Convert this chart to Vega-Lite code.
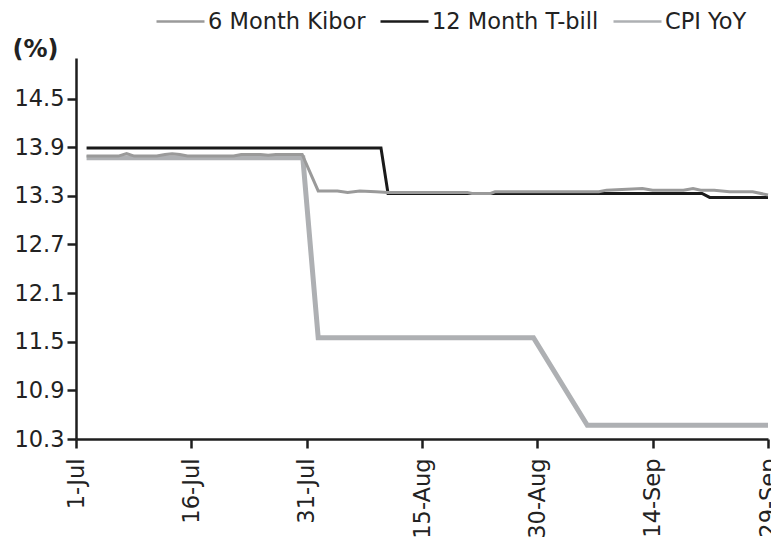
{
  "$schema": "https://vega.github.io/schema/vega-lite/v6.json",
  "width": 692,
  "height": 381,
  "autosize": "none",
  "padding": {"left": 76, "top": 58, "right": 3, "bottom": 101},
  "background": "white",
  "config": {
    "view": {"stroke": null},
    "font": "DejaVu Sans",
    "axis": {"grid": false, "domainColor": "#1e1e1e", "domainWidth": 2.5, "tickColor": "#1e1e1e", "tickWidth": 2.5, "tickSize": 9, "labelFont": "DejaVu Sans", "labelFontSize": 22.5, "labelColor": "#222222", "labelFlush": false, "labelOverlap": false, "labelLimit": 300}
  },
  "data": {
    "values": [
      {"date": "2011-07-02T09:00:00", "series": "CPI YoY", "value": 13.77},
      {"date": "2011-07-30T12:00:00", "series": "CPI YoY", "value": 13.77},
      {"date": "2011-08-01T12:00:00", "series": "CPI YoY", "value": 11.55},
      {"date": "2011-08-29T12:00:00", "series": "CPI YoY", "value": 11.55},
      {"date": "2011-09-05T12:00:00", "series": "CPI YoY", "value": 10.47},
      {"date": "2011-09-29T00:00:00", "series": "CPI YoY", "value": 10.47},

      {"date": "2011-07-02T09:00:00", "series": "12 Month T-bill", "value": 13.89},
      {"date": "2011-08-09T16:00:00", "series": "12 Month T-bill", "value": 13.89},
      {"date": "2011-08-10T14:00:00", "series": "12 Month T-bill", "value": 13.33},
      {"date": "2011-09-20T10:00:00", "series": "12 Month T-bill", "value": 13.33},
      {"date": "2011-09-21T10:00:00", "series": "12 Month T-bill", "value": 13.28},
      {"date": "2011-09-29T00:00:00", "series": "12 Month T-bill", "value": 13.28},

      {"date": "2011-07-02T09:00:00", "series": "6 Month Kibor", "value": 13.79},
      {"date": "2011-07-06T12:00:00", "series": "6 Month Kibor", "value": 13.79},
      {"date": "2011-07-07T14:00:00", "series": "6 Month Kibor", "value": 13.82},
      {"date": "2011-07-08T14:00:00", "series": "6 Month Kibor", "value": 13.79},
      {"date": "2011-07-11T12:00:00", "series": "6 Month Kibor", "value": 13.79},
      {"date": "2011-07-12T14:00:00", "series": "6 Month Kibor", "value": 13.81},
      {"date": "2011-07-13T12:00:00", "series": "6 Month Kibor", "value": 13.82},
      {"date": "2011-07-14T12:00:00", "series": "6 Month Kibor", "value": 13.81},
      {"date": "2011-07-15T12:00:00", "series": "6 Month Kibor", "value": 13.79},
      {"date": "2011-07-21T12:00:00", "series": "6 Month Kibor", "value": 13.79},
      {"date": "2011-07-22T12:00:00", "series": "6 Month Kibor", "value": 13.81},
      {"date": "2011-07-25T00:00:00", "series": "6 Month Kibor", "value": 13.81},
      {"date": "2011-07-26T00:00:00", "series": "6 Month Kibor", "value": 13.80},
      {"date": "2011-07-27T00:00:00", "series": "6 Month Kibor", "value": 13.81},
      {"date": "2011-07-30T10:00:00", "series": "6 Month Kibor", "value": 13.81},
      {"date": "2011-08-01T12:00:00", "series": "6 Month Kibor", "value": 13.36},
      {"date": "2011-08-04T00:00:00", "series": "6 Month Kibor", "value": 13.36},
      {"date": "2011-08-05T08:00:00", "series": "6 Month Kibor", "value": 13.34},
      {"date": "2011-08-06T22:00:00", "series": "6 Month Kibor", "value": 13.36},
      {"date": "2011-08-09T00:00:00", "series": "6 Month Kibor", "value": 13.35},
      {"date": "2011-08-10T14:00:00", "series": "6 Month Kibor", "value": 13.34},
      {"date": "2011-08-20T22:00:00", "series": "6 Month Kibor", "value": 13.34},
      {"date": "2011-08-21T12:00:00", "series": "6 Month Kibor", "value": 13.33},
      {"date": "2011-08-23T22:00:00", "series": "6 Month Kibor", "value": 13.33},
      {"date": "2011-08-24T12:00:00", "series": "6 Month Kibor", "value": 13.35},
      {"date": "2011-09-07T00:00:00", "series": "6 Month Kibor", "value": 13.35},
      {"date": "2011-09-08T00:00:00", "series": "6 Month Kibor", "value": 13.37},
      {"date": "2011-09-12T16:00:00", "series": "6 Month Kibor", "value": 13.39},
      {"date": "2011-09-14T00:00:00", "series": "6 Month Kibor", "value": 13.37},
      {"date": "2011-09-18T00:00:00", "series": "6 Month Kibor", "value": 13.37},
      {"date": "2011-09-19T06:00:00", "series": "6 Month Kibor", "value": 13.39},
      {"date": "2011-09-20T06:00:00", "series": "6 Month Kibor", "value": 13.37},
      {"date": "2011-09-22T00:00:00", "series": "6 Month Kibor", "value": 13.37},
      {"date": "2011-09-24T00:00:00", "series": "6 Month Kibor", "value": 13.35},
      {"date": "2011-09-27T00:00:00", "series": "6 Month Kibor", "value": 13.35},
      {"date": "2011-09-29T00:00:00", "series": "6 Month Kibor", "value": 13.31}
    ]
  },
  "encoding": {
    "x": {
      "field": "date", "type": "temporal",
      "scale": {"domain": [{"year": 2011, "month": 7, "date": 1}, {"year": 2011, "month": 9, "date": 29}], "nice": false},
      "axis": {
        "title": null,
        "format": "%-d-%b",
        "values": [
          {"year": 2011, "month": 7, "date": 1},
          {"year": 2011, "month": 7, "date": 16},
          {"year": 2011, "month": 7, "date": 31},
          {"year": 2011, "month": 8, "date": 15},
          {"year": 2011, "month": 8, "date": 30},
          {"year": 2011, "month": 9, "date": 14},
          {"year": 2011, "month": 9, "date": 29}
        ],
        "labelAngle": -90, "labelAlign": "right", "labelBaseline": "middle", "labelPadding": 10
      }
    },
    "y": {
      "field": "value", "type": "quantitative",
      "scale": {"domain": [10.3, 15.0], "nice": false, "zero": false},
      "axis": {
        "values": [10.3, 10.9, 11.5, 12.1, 12.7, 13.3, 13.9, 14.5],
        "format": ".1f",
        "labelPadding": 3,
        "title": "(%)", "titleAngle": 0, "titleAlign": "left", "titleBaseline": "alphabetic",
        "titleX": -64, "titleY": -2, "titleFontSize": 24, "titleFontWeight": "bold", "titleFont": "DejaVu Sans", "titleColor": "#222222"
      }
    },
    "color": {
      "field": "series", "type": "nominal",
      "scale": {"domain": ["6 Month Kibor", "12 Month T-bill", "CPI YoY"], "range": ["#9a9a9a", "#1a1a1a", "#aeb0b3"]},
      "legend": {
        "title": null, "orient": "none", "direction": "horizontal", "legendX": 79, "legendY": -62,
        "symbolType": "stroke", "symbolSize": 2304, "symbolStrokeWidth": 2.5,
        "labelFontSize": 22.5, "labelFont": "DejaVu Sans", "labelColor": "#222222", "labelOffset": 2, "labelLimit": 400,
        "columnPadding": 9, "padding": 0
      }
    }
  },
  "layer": [
    {"transform": [{"filter": "datum.series === 'CPI YoY'"}], "mark": {"type": "line", "strokeWidth": 5}},
    {"transform": [{"filter": "datum.series === '12 Month T-bill'"}], "mark": {"type": "line", "strokeWidth": 3}},
    {"transform": [{"filter": "datum.series === '6 Month Kibor'"}], "mark": {"type": "line", "strokeWidth": 3}}
  ]
}
